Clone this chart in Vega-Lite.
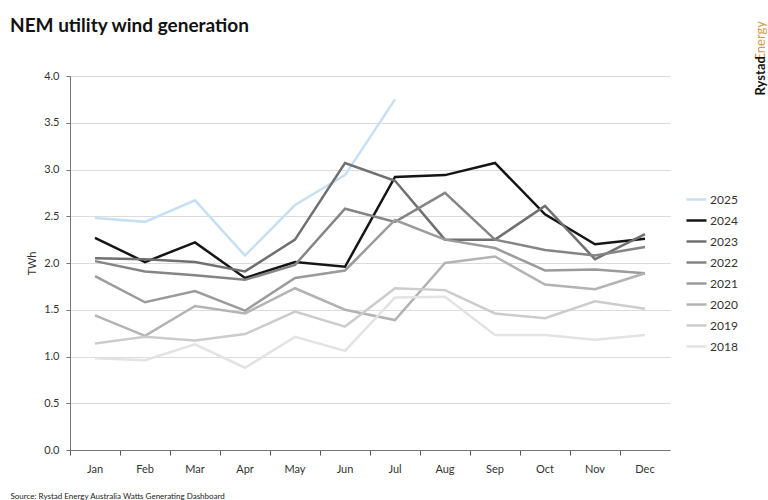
{
  "$schema": "https://vega.github.io/schema/vega-lite/v6.json",
  "autosize": {"type": "none"},
  "width": 600,
  "height": 374,
  "padding": {"left": 70, "top": 76, "right": 98, "bottom": 50},
  "background": "white",
  "title": {
    "text": "NEM utility wind generation",
    "anchor": "start",
    "frame": "group",
    "dx": -60,
    "offset": -15,
    "font": "Lato",
    "fontSize": 19,
    "fontWeight": "bold",
    "color": "#111111"
  },
  "config": {
    "view": {"stroke": null},
    "font": "Lato"
  },
  "datasets": {
    "gen": [
      {"year": "2025", "month": "Jan", "twh": 2.48}, {"year": "2025", "month": "Feb", "twh": 2.44}, {"year": "2025", "month": "Mar", "twh": 2.67}, {"year": "2025", "month": "Apr", "twh": 2.08}, {"year": "2025", "month": "May", "twh": 2.62}, {"year": "2025", "month": "Jun", "twh": 2.94}, {"year": "2025", "month": "Jul", "twh": 3.75},
      {"year": "2024", "month": "Jan", "twh": 2.27}, {"year": "2024", "month": "Feb", "twh": 2.01}, {"year": "2024", "month": "Mar", "twh": 2.22}, {"year": "2024", "month": "Apr", "twh": 1.84}, {"year": "2024", "month": "May", "twh": 2.01}, {"year": "2024", "month": "Jun", "twh": 1.96}, {"year": "2024", "month": "Jul", "twh": 2.92}, {"year": "2024", "month": "Aug", "twh": 2.94}, {"year": "2024", "month": "Sep", "twh": 3.07}, {"year": "2024", "month": "Oct", "twh": 2.52}, {"year": "2024", "month": "Nov", "twh": 2.2}, {"year": "2024", "month": "Dec", "twh": 2.26},
      {"year": "2023", "month": "Jan", "twh": 2.05}, {"year": "2023", "month": "Feb", "twh": 2.04}, {"year": "2023", "month": "Mar", "twh": 2.01}, {"year": "2023", "month": "Apr", "twh": 1.91}, {"year": "2023", "month": "May", "twh": 2.25}, {"year": "2023", "month": "Jun", "twh": 3.07}, {"year": "2023", "month": "Jul", "twh": 2.88}, {"year": "2023", "month": "Aug", "twh": 2.25}, {"year": "2023", "month": "Sep", "twh": 2.25}, {"year": "2023", "month": "Oct", "twh": 2.61}, {"year": "2023", "month": "Nov", "twh": 2.04}, {"year": "2023", "month": "Dec", "twh": 2.31},
      {"year": "2022", "month": "Jan", "twh": 2.02}, {"year": "2022", "month": "Feb", "twh": 1.91}, {"year": "2022", "month": "Mar", "twh": 1.87}, {"year": "2022", "month": "Apr", "twh": 1.82}, {"year": "2022", "month": "May", "twh": 1.98}, {"year": "2022", "month": "Jun", "twh": 2.58}, {"year": "2022", "month": "Jul", "twh": 2.44}, {"year": "2022", "month": "Aug", "twh": 2.75}, {"year": "2022", "month": "Sep", "twh": 2.25}, {"year": "2022", "month": "Oct", "twh": 2.14}, {"year": "2022", "month": "Nov", "twh": 2.08}, {"year": "2022", "month": "Dec", "twh": 2.17},
      {"year": "2021", "month": "Jan", "twh": 1.86}, {"year": "2021", "month": "Feb", "twh": 1.58}, {"year": "2021", "month": "Mar", "twh": 1.7}, {"year": "2021", "month": "Apr", "twh": 1.49}, {"year": "2021", "month": "May", "twh": 1.84}, {"year": "2021", "month": "Jun", "twh": 1.92}, {"year": "2021", "month": "Jul", "twh": 2.46}, {"year": "2021", "month": "Aug", "twh": 2.25}, {"year": "2021", "month": "Sep", "twh": 2.16}, {"year": "2021", "month": "Oct", "twh": 1.92}, {"year": "2021", "month": "Nov", "twh": 1.93}, {"year": "2021", "month": "Dec", "twh": 1.89},
      {"year": "2020", "month": "Jan", "twh": 1.44}, {"year": "2020", "month": "Feb", "twh": 1.22}, {"year": "2020", "month": "Mar", "twh": 1.54}, {"year": "2020", "month": "Apr", "twh": 1.46}, {"year": "2020", "month": "May", "twh": 1.73}, {"year": "2020", "month": "Jun", "twh": 1.5}, {"year": "2020", "month": "Jul", "twh": 1.39}, {"year": "2020", "month": "Aug", "twh": 2.0}, {"year": "2020", "month": "Sep", "twh": 2.07}, {"year": "2020", "month": "Oct", "twh": 1.77}, {"year": "2020", "month": "Nov", "twh": 1.72}, {"year": "2020", "month": "Dec", "twh": 1.89},
      {"year": "2019", "month": "Jan", "twh": 1.14}, {"year": "2019", "month": "Feb", "twh": 1.21}, {"year": "2019", "month": "Mar", "twh": 1.17}, {"year": "2019", "month": "Apr", "twh": 1.24}, {"year": "2019", "month": "May", "twh": 1.48}, {"year": "2019", "month": "Jun", "twh": 1.32}, {"year": "2019", "month": "Jul", "twh": 1.73}, {"year": "2019", "month": "Aug", "twh": 1.71}, {"year": "2019", "month": "Sep", "twh": 1.46}, {"year": "2019", "month": "Oct", "twh": 1.41}, {"year": "2019", "month": "Nov", "twh": 1.59}, {"year": "2019", "month": "Dec", "twh": 1.51},
      {"year": "2018", "month": "Jan", "twh": 0.98}, {"year": "2018", "month": "Feb", "twh": 0.96}, {"year": "2018", "month": "Mar", "twh": 1.13}, {"year": "2018", "month": "Apr", "twh": 0.88}, {"year": "2018", "month": "May", "twh": 1.21}, {"year": "2018", "month": "Jun", "twh": 1.06}, {"year": "2018", "month": "Jul", "twh": 1.63}, {"year": "2018", "month": "Aug", "twh": 1.64}, {"year": "2018", "month": "Sep", "twh": 1.23}, {"year": "2018", "month": "Oct", "twh": 1.23}, {"year": "2018", "month": "Nov", "twh": 1.18}, {"year": "2018", "month": "Dec", "twh": 1.23}
    ],
    "one": [{"k": 0}]
  },
  "layer": [
    {
      "data": {"name": "gen"},
      "mark": {"type": "line", "strokeWidth": 2.5, "strokeJoin": "miter"},
      "encoding": {
        "x": {
          "field": "month",
          "type": "ordinal",
          "sort": ["Jan", "Feb", "Mar", "Apr", "May", "Jun", "Jul", "Aug", "Sep", "Oct", "Nov", "Dec"],
          "scale": {"type": "band", "paddingInner": 0, "paddingOuter": 0},
          "axis": {
            "bandPosition": 0,
            "labelAngle": 0,
            "labelFontSize": 11,
            "labelColor": "#333333",
            "labelPadding": 8,
            "tickSize": 5,
            "tickColor": "#555555",
            "domainColor": "#777777",
            "grid": false,
            "title": "Source: Rystad Energy Australia Watts Generating Dashboard",
            "titleFontSize": 8,
            "titleFontWeight": "normal",
            "titleColor": "#222222",
            "titleAnchor": null,
            "titleAlign": "left",
            "titleX": -60,
            "titleY": 42
          }
        },
        "y": {
          "field": "twh",
          "type": "quantitative",
          "scale": {"domain": [0, 4], "nice": false},
          "axis": {
            "values": [0, 0.5, 1, 1.5, 2, 2.5, 3, 3.5, 4],
            "format": ".1f",
            "title": "TWh",
            "titleFontSize": 11,
            "titleFontWeight": "normal",
            "titleColor": "#333333",
            "titlePadding": 6,
            "labelFontSize": 11,
            "labelColor": "#333333",
            "labelPadding": 7,
            "tickSize": 4,
            "tickColor": "#777777",
            "domainColor": "#777777",
            "gridColor": "#dcdcdc",
            "gridWidth": 1
          }
        },
        "color": {
          "field": "year",
          "type": "nominal",
          "scale": {
            "domain": ["2025", "2024", "2023", "2022", "2021", "2020", "2019", "2018"],
            "range": ["#c6e0f3", "#151515", "#707070", "#858585", "#9b9b9b", "#b3b3b3", "#cccccc", "#e3e3e3"]
          },
          "legend": {
            "title": null,
            "orient": "none",
            "legendX": 615,
            "legendY": 112,
            "symbolType": "stroke",
            "symbolSize": 400,
            "symbolStrokeWidth": 2.5,
            "labelFontSize": 12,
            "labelColor": "#333333",
            "labelOffset": 2,
            "rowPadding": 3
          }
        },
        "order": {"field": "year", "sort": "ascending"}
      }
    },
    {
      "data": {"name": "one"},
      "mark": {"type": "rule", "opacity": 0},
      "encoding": {
        "y": {
          "datum": 0,
          "type": "quantitative",
          "scale": {"domain": [0, 1]},
          "axis": {
            "orient": "right",
            "labels": false,
            "ticks": false,
            "domain": false,
            "grid": false,
            "title": "Rystad",
            "titleFontSize": 13,
            "titleFontWeight": "bold",
            "titleColor": "#111111",
            "titleAngle": 270,
            "titleAlign": "left",
            "titleBaseline": "middle",
            "titleAnchor": null,
            "titleX": 90,
            "titleY": 19
          }
        }
      }
    },
    {
      "data": {"name": "one"},
      "mark": {"type": "rule", "opacity": 0},
      "encoding": {
        "x": {
          "datum": 0,
          "type": "quantitative",
          "scale": {"domain": [0, 1]},
          "axis": {
            "orient": "top",
            "labels": false,
            "ticks": false,
            "domain": false,
            "grid": false,
            "title": "Energy",
            "titleFontSize": 13,
            "titleFontWeight": "normal",
            "titleColor": "#d49a4e",
            "titleAngle": 270,
            "titleAlign": "left",
            "titleBaseline": "middle",
            "titleAnchor": null,
            "titleX": 690,
            "titleY": -16
          }
        }
      }
    }
  ],
  "resolve": {"scale": {"x": "independent", "y": "independent", "color": "independent"}}
}
